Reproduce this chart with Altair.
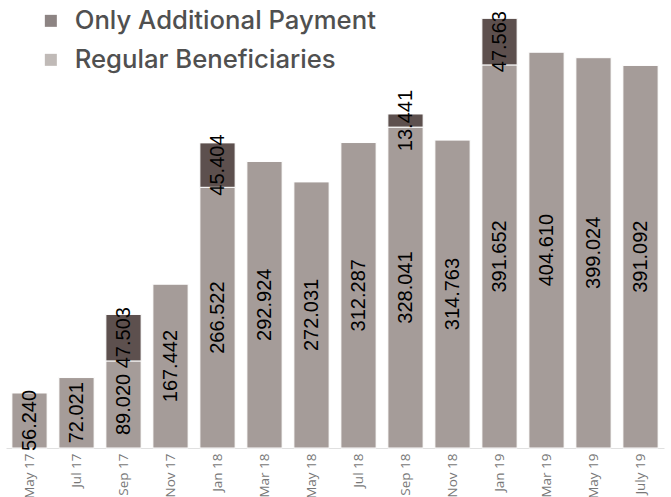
import altair as alt
import pandas as pd

months = ["May 17", "Jul 17", "Sep 17", "Nov 17", "Jan 18", "Mar 18", "May 18",
          "Jul 18", "Sep 18", "Nov 18", "Jan 19", "Mar 19", "May 19", "July 19"]
regular = [56240, 72021, 89020, 167442, 266522, 292924, 272031,
           312287, 328041, 314763, 391652, 404610, 399024, 391092]
additional = [0, 0, 47503, 0, 45404, 0, 0, 0, 13441, 0, 47563, 0, 0, 0]
series = ["Only Additional Payment", "Regular Beneficiaries"]
colors = ["#5d504e", "#a59c99"]

rows = []
for m, r, a in zip(months, regular, additional):
    rows.append(dict(month=m, series=series[1], value=r, order=0))
    if a:
        rows.append(dict(month=m, series=series[0], value=a, order=1))
df = pd.DataFrame(rows)
df["label"] = df["value"].map(lambda v: f"{v:,}".replace(",", "."))

base = alt.Chart(df).transform_stack(
    stack="value", as_=["y0", "y1"], groupby=["month"],
    sort=[alt.SortField("order", order="ascending")]
).transform_calculate(mid="(datum.y0 + datum.y1) / 2")

xenc = alt.X("month:N", sort=months,
             scale=alt.Scale(paddingInner=0.25, paddingOuter=0.125),
             axis=alt.Axis(title=None, labelAngle=270, labelFontSize=13.5,
                           labelColor="#777777", labelFont="Open Sans",
                           ticks=False, domainColor="#e0e0e0", labelPadding=5))
yscale = alt.Scale(domain=[0, 458000], nice=False)

bars = base.mark_bar(stroke="white", strokeWidth=1).encode(
    x=xenc,
    y=alt.Y("y0:Q", scale=yscale, axis=None),
    y2="y1:Q",
    color=alt.Color("series:N", scale=alt.Scale(domain=series, range=colors),
                    legend=alt.Legend(title=None, orient="none", legendX=32, legendY=8,
                                      labelFont="Inter", labelFontSize=25.7,
                                      labelFontWeight=500,
                                      labelColor="#505050", symbolType="square",
                                      symbolSize=144, symbolStrokeWidth=0,
                                      symbolOpacity=0.7, rowPadding=12,
                                      labelOffset=11, labelLimit=0, padding=0)),
)

text = base.mark_text(angle=270, fontSize=20, font="Liberation Sans", color="black",
                      align="center", baseline="middle").encode(
    x=alt.X("month:N", sort=months),
    y=alt.Y("mid:Q", scale=yscale),
    text="label:N",
)

chart = alt.layer(bars, text).properties(
    width=658, height=448,
    autosize=alt.AutoSizeParams(type="none"),
    padding={"left": 6, "top": 0, "right": 7, "bottom": 49},
).configure_view(stroke=None)

chart.save("out.html", embed_options={"renderer": "svg", "actions": False})
